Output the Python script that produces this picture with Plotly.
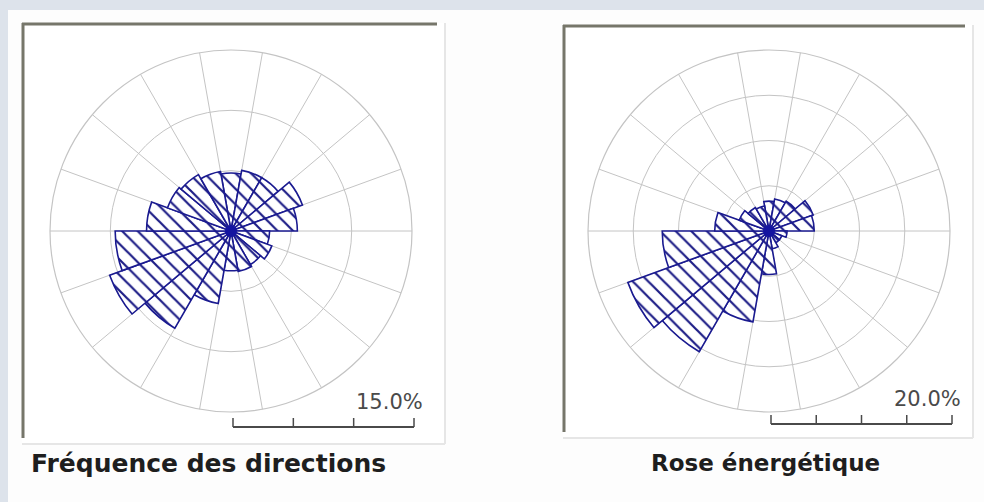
import plotly.graph_objects as go

# Direction sectors (degrees, clockwise from north), 20° wide
directions = [0, 20, 40, 60, 80, 100, 120, 140, 160, 180,
              200, 220, 240, 260, 280, 300, 320, 340]

# Frequency of each direction (%)
frequency_pct = [4.8, 5.1, 5.1, 6.3, 5.5, 3.2, 3.6, 3.2, 3.4, 3.3,
                 6.1, 9.3, 10.7, 9.6, 7.0, 5.6, 5.4, 5.0]

# Share of energy per direction (%)
energy_pct = [3.3, 3.6, 3.8, 5.2, 5.0, 2.0, 1.5, 1.5, 2.0, 4.8,
              10.2, 15.4, 16.6, 11.8, 6.0, 3.5, 3.0, 2.8]

titles = ["Fréquence des directions", "Rose énergétique"]
scale_labels = ["15.0%", "20.0%"]
radial_max = [15, 20]
ring_step = 5

W, H = 984, 502


def px(x):
    return x / W


def py(y):
    return 1 - y / H


OUTLINE = "#1a1a90"
HATCH = "#1c1c86"
GRID = "#c4c4c4"

fig = go.Figure()

# geometry of the two rose panels (pixels)
centers = [(231, 231), (769, 231)]
radius = 181

for i, (vals, (cx, cy)) in enumerate(zip([frequency_pct, energy_pct], centers)):
    pname = "polar" if i == 0 else "polar2"
    fig.add_trace(go.Barpolar(
        r=vals, theta=directions, width=[20] * len(directions),
        subplot=pname,
        marker=dict(color="white",
                    line=dict(color=OUTLINE, width=1.6),
                    pattern=dict(shape="\\", fgcolor=HATCH, bgcolor="white",
                                 fgopacity=1, size=11, solidity=0.2)),
        hoverinfo="skip", showlegend=False,
    ))
    fig.add_trace(go.Scatterpolar(
        r=[0], theta=[0], mode="markers", subplot=pname,
        marker=dict(size=12, color="#1414a0"),
        hoverinfo="skip", showlegend=False,
    ))

    polar = dict(
        domain=dict(x=[px(cx - radius), px(cx + radius)],
                    y=[py(cy + radius), py(cy - radius)]),
        bgcolor="rgba(0,0,0,0)",
        angularaxis=dict(rotation=90, direction="clockwise",
                         tickmode="array",
                         tickvals=[10 + 20 * k for k in range(18)],
                         showticklabels=False, ticks="",
                         gridcolor=GRID, gridwidth=1.2,
                         showline=True, linecolor=GRID, linewidth=1.2,
                         layer="below traces"),
        radialaxis=dict(range=[0, radial_max[i]],
                        tickvals=list(range(ring_step, radial_max[i] + 1, ring_step)),
                        showticklabels=False, ticks="", showline=False,
                        gridcolor=GRID, gridwidth=1.2, layer="below traces"),
    )
    fig.update_layout(**{pname: polar})

shapes = []
# white page area
shapes.append(dict(type="rect", xref="paper", yref="paper",
                   x0=px(8), x1=px(W + 2), y0=py(H + 2), y1=py(10),
                   fillcolor="#fdfdfd", line=dict(width=0), layer="below"))

# sunken panel frames
panels = [(22, 23, 445, 444), (563, 25, 973, 438)]
for (x0, y0, x1, y1) in panels:
    shapes.append(dict(type="rect", xref="paper", yref="paper",
                       x0=px(x0), x1=px(x1), y0=py(y1), y1=py(y0),
                       fillcolor="white", line=dict(width=0), layer="below"))
    # dark top / left edges
    shapes.append(dict(type="line", xref="paper", yref="paper",
                       x0=px(x0), x1=px(x1 - 8), y0=py(y0 + 1), y1=py(y0 + 1),
                       line=dict(color="#76766a", width=3), layer="below"))
    shapes.append(dict(type="line", xref="paper", yref="paper",
                       x0=px(x0 + 1), x1=px(x0 + 1), y0=py(y0), y1=py(y1 - 6),
                       line=dict(color="#76766a", width=3), layer="below"))
    # light bottom / right edges
    shapes.append(dict(type="line", xref="paper", yref="paper",
                       x0=px(x0), x1=px(x1), y0=py(y1), y1=py(y1),
                       line=dict(color="#e6e6e6", width=2), layer="below"))
    shapes.append(dict(type="line", xref="paper", yref="paper",
                       x0=px(x1), x1=px(x1), y0=py(y0), y1=py(y1),
                       line=dict(color="#e6e6e6", width=2), layer="below"))

# scale bars: one tick per ring, spanning the outer radius
bar_y = [427, 424]
annotations = []
for i, (cx, cy) in enumerate(centers):
    n = radial_max[i] // ring_step
    xs = cx + 2
    xe = xs + radius
    yb = bar_y[i]
    shapes.append(dict(type="line", xref="paper", yref="paper",
                       x0=px(xs), x1=px(xe), y0=py(yb), y1=py(yb),
                       line=dict(color="#4a4a4a", width=2)))
    for k in range(n + 1):
        tx = xs + radius * k / n
        shapes.append(dict(type="line", xref="paper", yref="paper",
                           x0=px(tx), x1=px(tx), y0=py(yb), y1=py(yb - 9),
                           line=dict(color="#4a4a4a", width=1.5)))
    annotations.append(dict(
        text=scale_labels[i], xref="paper", yref="paper",
        x=px(xe + 11), y=py(yb - 25), xanchor="right", yanchor="middle",
        showarrow=False,
        font=dict(family="DejaVu Sans", size=21, color="#4a4a4a")))

title_x = [208, 765]
title_size = [25, 23]
for i, t in enumerate(titles):
    annotations.append(dict(
        text=f"<b>{t}</b>", xref="paper", yref="paper",
        x=px(title_x[i]), y=py(463), xanchor="center", yanchor="middle",
        showarrow=False,
        font=dict(family="DejaVu Sans", size=title_size[i], color="#1e1e1e")))

fig.update_layout(
    width=W, height=H, margin=dict(l=0, r=0, t=0, b=0),
    paper_bgcolor="#dde3eb", plot_bgcolor="white",
    shapes=shapes, annotations=annotations, showlegend=False,
)

fig.write_html("out.html")
